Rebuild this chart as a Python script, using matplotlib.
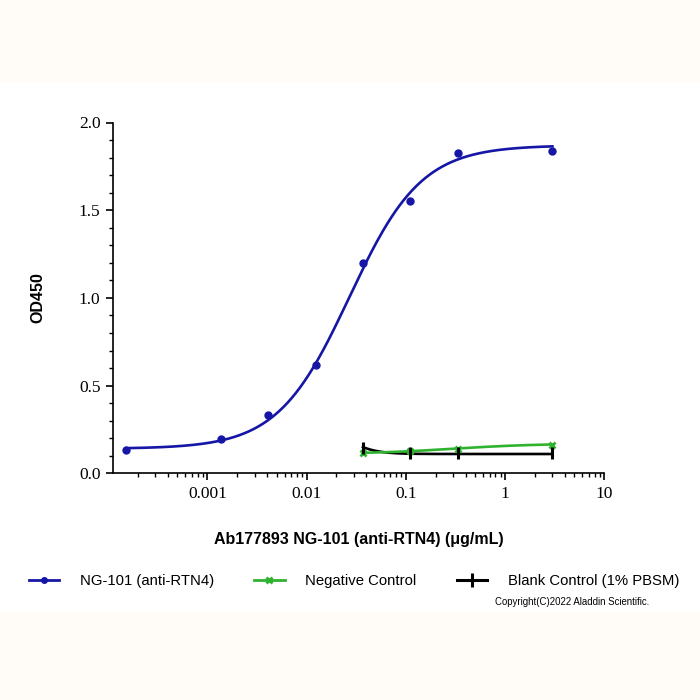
import numpy as np
import matplotlib
matplotlib.use("Agg")
import matplotlib.pyplot as plt
from matplotlib.patches import Rectangle
from matplotlib.ticker import LogLocator, FixedLocator, MultipleLocator, NullFormatter

# ---- data ----
ng_x = [0.000152, 0.00137, 0.0041, 0.0123, 0.037, 0.111, 0.333, 3.0]
ng_y = [0.135, 0.194, 0.331, 0.616, 1.198, 1.551, 1.827, 1.840]
neg_x = [0.037, 0.111, 0.333, 3.0]
neg_y = [0.114, 0.127, 0.141, 0.162]
blank_x = [0.037, 0.111, 0.333, 3.0]
blank_y = [0.145, 0.113, 0.113, 0.113]

# 4PL fit parameters (low asymptote, high asymptote, EC50, hill)
ng_fit = (0.14, 1.87, 0.027, 1.2)
neg_fit = (0.11, 0.17, 0.30, 1.0)
blank_fit = (0.40, 0.11, 0.02, 3.0)   # decreasing: value at low x, value at high x

xtick_vals = [0.001, 0.01, 0.1, 1, 10]
xtick_labels = ["0.001", "0.01", "0.1", "1", "10"]
ytick_vals = [0.0, 0.5, 1.0, 1.5, 2.0]
ytick_labels = ["0.0", "0.5", "1.0", "1.5", "2.0"]

legend_labels = ["NG-101 (anti-RTN4)", "Negative Control", "Blank Control (1% PBSM)"]

blue = "#1616a6"
green = "#2fb32f"
black = "#000000"


def fourpl(x, p):
    lo, hi, ec, h = p
    r = (np.asarray(x) / ec) ** h
    return lo + (hi - lo) * r / (1 + r)


fig = plt.figure(figsize=(7, 7), dpi=100)
fig.patch.set_facecolor("white")
cream = "#fffcf7"
fig.add_artist(Rectangle((0, 1 - 82 / 700), 1, 82 / 700, transform=fig.transFigure,
                         facecolor=cream, edgecolor="none", zorder=-10))
fig.add_artist(Rectangle((0, 0), 1, 1 - 612 / 700, transform=fig.transFigure,
                         facecolor=cream, edgecolor="none", zorder=-10))

ax = fig.add_axes([113 / 700, 1 - 473.3 / 700, (604.3 - 113) / 700, (473.3 - 122.5) / 700])
ax.set_facecolor("none")

# fitted curves
xs = np.logspace(np.log10(ng_x[0]), np.log10(ng_x[-1]), 400)
ax.plot(xs, fourpl(xs, ng_fit), color=blue, lw=1.9, zorder=3)
xs2 = np.logspace(np.log10(neg_x[0]), np.log10(neg_x[-1]), 200)
ax.plot(xs2, fourpl(xs2, neg_fit), color=green, lw=1.9, zorder=3)
ax.plot(xs2, fourpl(xs2, blank_fit), color=black, lw=1.9, zorder=2)

# points
ax.plot(ng_x, ng_y, ls="none", marker="o", ms=5, color=blue, zorder=4)
ax.plot(neg_x, neg_y, ls="none", marker="x", ms=5, mew=2, color=green, zorder=4)
ax.plot(blank_x, blank_y, ls="none", marker="|", ms=8, mew=2.2, color=black, zorder=4)

ax.set_xscale("log")
ax.set_xlim(1.12e-4, 10)
ax.set_ylim(0, 2.0)

ax.xaxis.set_major_locator(FixedLocator(xtick_vals))
ax.set_xticks(xtick_vals)
ax.set_xticklabels(xtick_labels)
ax.xaxis.set_minor_locator(LogLocator(base=10, subs=np.arange(2, 10), numticks=20))
ax.xaxis.set_minor_formatter(NullFormatter())
ax.set_yticks(ytick_vals)
ax.set_yticklabels(ytick_labels)
ax.yaxis.set_minor_locator(MultipleLocator(0.1))

for s in ["top", "right"]:
    ax.spines[s].set_visible(False)
for s in ["left", "bottom"]:
    ax.spines[s].set_linewidth(1.2)

ax.tick_params(axis="both", which="major", direction="out", length=5, width=1.2,
               labelsize=12.5, pad=4)
ax.tick_params(axis="both", which="minor", direction="out", length=3, width=1)
for lab in ax.get_xticklabels() + ax.get_yticklabels():
    lab.set_fontfamily("Liberation Serif")

ax.set_ylabel("OD450", fontsize=11.5, fontweight="bold", family="Liberation Sans")
ax.yaxis.set_label_coords(-(113 - 45) / (604.3 - 113), 0.5)
ax.set_xlabel("Ab177893 NG-101 (anti-RTN4) (\u03bcg/mL)", fontsize=11.5, fontweight="bold",
              family="Liberation Sans", labelpad=22)

# legend
h1, = ax.plot([], [], color=blue, lw=2, marker="o", ms=4)
h2, = ax.plot([], [], color=green, lw=2, marker="x", ms=4, mew=2)
h3, = ax.plot([], [], color=black, lw=2.2, marker="|", ms=10, mew=2.2)
fig.legend([h1, h2, h3], legend_labels, loc="center", bbox_to_anchor=(354 / 700, 1 - 581 / 700),
           ncol=3, frameon=False, prop={"family": "Liberation Sans", "size": 10.7},
           handlelength=2.05, handletextpad=1.4, columnspacing=2.7)

fig.text(495 / 700, 1 - 602 / 700, "Copyright(C)2022 Aladdin Scientific.", fontsize=6.9,
         family="Liberation Sans", va="center", ha="left")

fig.savefig("out.png", dpi=100)
